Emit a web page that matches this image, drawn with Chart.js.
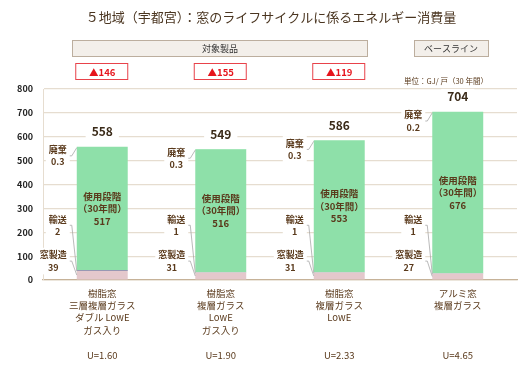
<!DOCTYPE html>
<html>
<head>
<meta charset="utf-8">
<script src="https://cdn.jsdelivr.net/npm/chart.js@4/dist/chart.umd.min.js"></script>
<style>
  html, body { margin: 0; padding: 0; background: #fff; }
  #wrap { width: 525px; height: 370px; position: relative; }
</style>
</head>
<body>
<div id="wrap"><canvas id="c"></canvas></div>
<script>
// データ（GJ/戸・30年間）
var CATEGORIES = [
  ['樹脂窓', '三層複層ガラス', 'ダブル LowE', 'ガス入り', '', 'U=1.60'],
  ['樹脂窓', '複層ガラス', 'LowE', 'ガス入り', '', 'U=1.90'],
  ['樹脂窓', '複層ガラス', 'LowE', '', '', 'U=2.33'],
  ['アルミ窓', '複層ガラス', '', '', '', 'U=4.65']
];
var MAKE = [39, 31, 31, 27];          // 窓製造
var TRANSPORT = [2, 1, 1, 1];         // 輸送
var USE = [517, 516, 553, 676];       // 使用段階（30年間）
var DISPOSAL = [0.3, 0.3, 0.3, 0.2];  // 廃棄
var TOTALS = ['558', '549', '586', '704'];
var REDUCTION = ['▲146', '▲155', '▲119'];
var Y_TICKS = [0, 100, 200, 300, 400, 500, 600, 700, 800];

var FONT = '"Noto Sans CJK JP", "Noto Sans", sans-serif';
var BROWN = '#5a3a1c';

function fmt(v) { return String(v); }

function textBlock(ctx, lines, cx, y0, lh, bg) {
  var w = 0;
  lines.forEach(function (l) { w = Math.max(w, ctx.measureText(l).width); });
  if (bg) {
    ctx.fillStyle = '#fff';
    ctx.fillRect(cx - w / 2 - 3, y0 - lh / 2 - 1, w + 6, lh * lines.length + 2);
  }
  ctx.fillStyle = BROWN;
  lines.forEach(function (l, i) { ctx.fillText(l, cx, y0 + i * lh); });
  return w;
}

var decor = {
  id: 'decor',
  afterDatasetsDraw: function (chart) {
    var ctx = chart.ctx, y = chart.scales.y;
    var m0 = chart.getDatasetMeta(0), m1 = chart.getDatasetMeta(1),
        m2 = chart.getDatasetMeta(2), m3 = chart.getDatasetMeta(3);
    ctx.save();
    ctx.textAlign = 'center';
    ctx.textBaseline = 'middle';

    // タイトル
    ctx.font = '13px ' + FONT;
    ctx.fillStyle = '#4a3520';
    ctx.fillText('５地域（宇都宮）：窓のライフサイクルに係るエネルギー消費量', 271, 17);

    // 見出しボックス
    ctx.font = '9px ' + FONT;
    ctx.lineWidth = 1;
    ctx.fillStyle = '#f3efea';
    ctx.strokeStyle = '#bcae9e';
    ctx.fillRect(72.5, 40.5, 295, 16);
    ctx.strokeRect(72.5, 40.5, 295, 16);
    ctx.fillRect(414.5, 40.5, 74, 16);
    ctx.strokeRect(414.5, 40.5, 74, 16);
    ctx.fillStyle = '#333';
    ctx.fillText('対象製品', 220, 49);
    ctx.fillText('ベースライン', 451, 49);

    // 削減量
    ctx.font = 'bold 9.5px ' + FONT;
    REDUCTION.forEach(function (t, i) {
      var cx = m0.data[i].x;
      ctx.fillStyle = '#fff';
      ctx.strokeStyle = '#e8424a';
      ctx.fillRect(cx - 26.5, 63.5, 52, 16);
      ctx.strokeRect(cx - 26.5, 63.5, 52, 16);
      ctx.fillStyle = '#e6141c';
      ctx.fillText(t, cx, 72);
    });

    // 単位
    ctx.font = '7.5px ' + FONT;
    ctx.fillStyle = BROWN;
    ctx.fillText('単位：GJ/ 戸（30 年間）', 446, 81);

    var lh = 12.3;
    for (var i = 0; i < USE.length; i++) {
      var bar = m2.data[i];
      var left = bar.x - bar.width / 2;
      var top = m3.data[i].y;

      // 合計
      ctx.font = 'bold 12px ' + FONT;
      ctx.fillStyle = '#fff';
      var tw = ctx.measureText(TOTALS[i]).width;
      ctx.fillRect(bar.x - tw / 2 - 6, top - 23, tw + 12, 16);
      ctx.fillStyle = '#3a2a18';
      ctx.fillText(TOTALS[i], bar.x, top - 15);

      // 使用段階
      ctx.font = 'bold 9.5px ' + FONT;
      var mid = (bar.y + bar.base) / 2;
      ctx.fillStyle = BROWN;
      ctx.fillText('使用段階', bar.x, mid - 12.5);
      ctx.fillText('（30年間）', bar.x, mid);
      ctx.fillText(fmt(USE[i]), bar.x, mid + 12.5);

      // 左側の注記
      var notes = [
        { lines: ['廃棄', fmt(DISPOSAL[i])], ly: top + 3, ay: top + 1 },
        { lines: ['輸送', fmt(TRANSPORT[i])], ly: y.getPixelForValue(255), ay: m1.data[i].y + 1 },
        { lines: ['窓製造', fmt(MAKE[i])], ly: y.getPixelForValue(105), ay: (m0.data[i].y + m0.data[i].base) / 2 }
      ];
      ctx.font = 'bold 9px ' + FONT;
      notes.forEach(function (n) {
        var w = 0;
        n.lines.forEach(function (l) { w = Math.max(w, ctx.measureText(l).width); });
        var right = left - 10;
        var cx = right - w / 2;
        var my = n.ly + lh / 2;
        ctx.strokeStyle = '#a8a8a8';
        ctx.lineWidth = 0.8;
        ctx.beginPath();
        ctx.moveTo(right + 2, my);
        ctx.lineTo(left - 5, my);
        ctx.lineTo(left, n.ay);
        ctx.stroke();
        textBlock(ctx, n.lines, cx, n.ly, lh, true);
      });
    }
    ctx.restore();
  }
};

new Chart(document.getElementById('c'), {
  type: 'bar',
  data: {
    labels: CATEGORIES,
    datasets: [
      { label: '窓製造', data: MAKE, backgroundColor: '#e4c8cc' },
      { label: '輸送', data: TRANSPORT, backgroundColor: ['#1c1c70', '#6e7796', '#6e7796', '#6e7796'] },
      { label: '使用段階', data: USE, backgroundColor: '#8ee0a9' },
      { label: '廃棄', data: DISPOSAL, backgroundColor: '#8ee0a9' }
    ]
  },
  options: {
    responsive: true,
    maintainAspectRatio: false,
    animation: false,
    layout: { padding: { top: 89, right: 8, left: 0, bottom: 0 } },
    datasets: { bar: { barPercentage: 0.43, categoryPercentage: 1 } },
    plugins: { legend: { display: false }, tooltip: { enabled: false } },
    scales: {
      x: {
        stacked: true,
        afterFit: function (s) { s.height = 90; },
        grid: { display: false, drawTicks: false },
        border: { color: '#c6b298', width: 1.2 },
        ticks: { padding: 7, color: BROWN, font: { family: FONT, size: 9.5, lineHeight: 1.3 }, maxRotation: 0 }
      },
      y: {
        stacked: true,
        min: 0,
        max: 800,
        afterFit: function (s) { s.width = 43; },
        afterBuildTicks: function (s) { s.ticks = Y_TICKS.map(function (v) { return { value: v }; }); },
        grid: { color: '#e6ddd0', lineWidth: 1.2, drawTicks: false },
        border: { color: '#e6ddd0' },
        ticks: { padding: 10, color: '#222', font: { family: FONT, size: 9, weight: 'bold' } }
      }
    }
  },
  plugins: [decor]
});
</script>
</body>
</html>
